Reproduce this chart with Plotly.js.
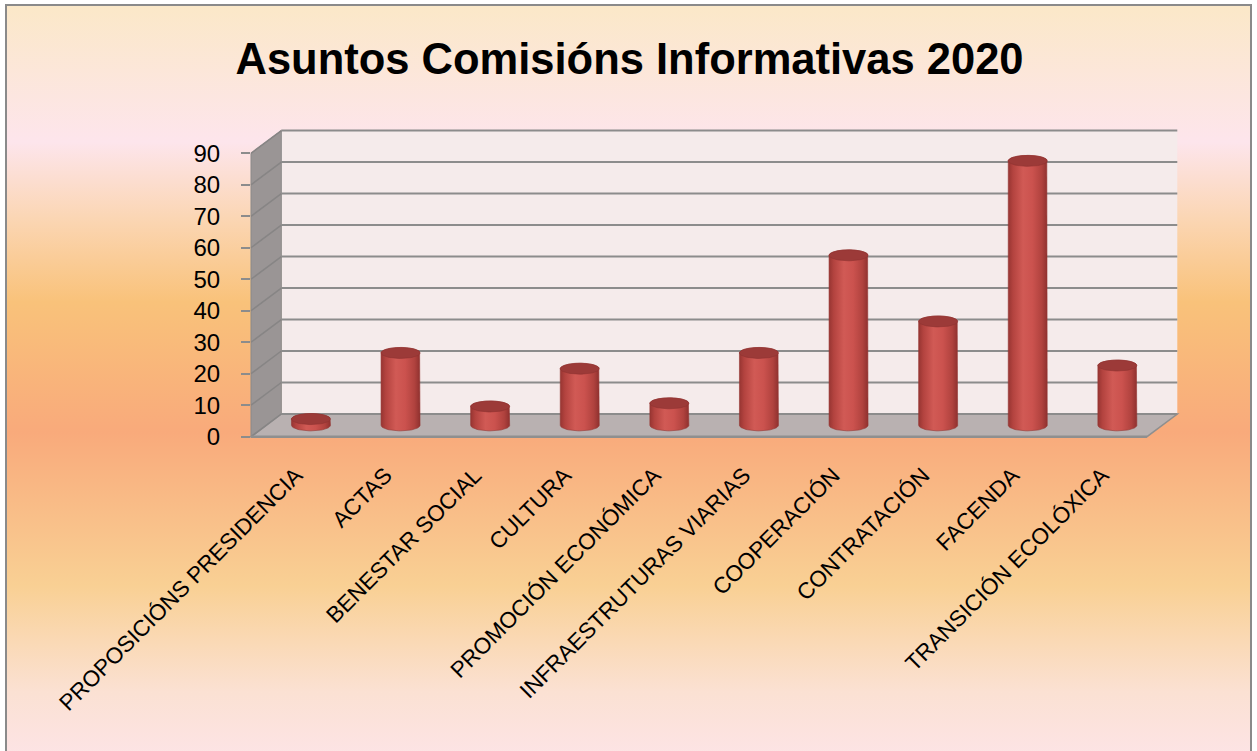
<!DOCTYPE html>
<html><head><meta charset="utf-8">
<script src="https://cdn.plot.ly/plotly-3.0.1.min.js"></script>
<style>
html,body{margin:0;padding:0;width:1257px;height:751px;overflow:hidden;background:#fff;}
#frame{position:absolute;left:5px;top:4px;width:1247px;height:800px;box-sizing:border-box;border:2px solid #8a8a8a;
background:linear-gradient(to bottom,#fbe8c8 0px,#fde5ec 136px,#fbd6b4 212px,#f9c27a 296px,#f9aa7b 426px,#f9d094 580px,#fbe1d3 686px,#fde4e8 760px);}
#chart{position:absolute;left:0;top:0;width:1257px;height:751px;}
</style></head><body>
<div id="frame"></div><div id="chart"></div>
<script>
// ---- data ----
const categories = ["PROPOSICIÓNS PRESIDENCIA","ACTAS","BENESTAR SOCIAL","CULTURA","PROMOCIÓN ECONÓMICA",
  "INFRAESTRUTURAS VIARIAS","COOPERACIÓN","CONTRATACIÓN","FACENDA","TRANSICIÓN ECOLÓXICA"];
const values = [2, 23, 6, 18, 7, 23, 54, 33, 84, 19];
const yTicks = [0, 10, 20, 30, 40, 50, 60, 70, 80, 90];
const titleText = "Asuntos Comisións Informativas 2020";

// ---- geometry (pixels) ----
const WW = 1257, HH = 751;
const FX0 = 251, FX1 = 1147, FY0 = 436.7;   // front plane
const YMAX = 90;
const K = (436.7 - 153.3) / YMAX;            // px per unit
const DX = 30.3, DY = -22.7;                 // depth offset to back wall
const px = x => x / WW, py = y => 1 - y / HH;
const P = (x, y) => px(x).toFixed(5) + ',' + py(y).toFixed(5);
const yF = v => FY0 - v * K;

// mid plane axes for cylinders
const MX0 = FX0 + DX / 2, MX1 = FX1 + DX / 2, MY0 = FY0 + DY / 2;
const YLO = -5, YHI = 95;
const n = categories.length;
const W = 19.5 / ((MX1 - MX0) / n);   // cylinder half width (category units)
const RY = 5.5 / K;                   // ellipse half height (value units)

const traces = [];
const capX = [], capY = [];
for (let i = 0; i < n; i++) {
  const v = values[i];
  const xs = [], ys = [];
  const N = 30;
  for (let k = 0; k <= N; k++) { const t = Math.PI + Math.PI * k / N; xs.push(i + W * Math.cos(t)); ys.push(RY * Math.sin(t)); }
  for (let k = 0; k <= N; k++) { const t = Math.PI * k / N; xs.push(i + W * Math.cos(t)); ys.push(v + RY * Math.sin(t)); }
  xs.push(xs[0]); ys.push(ys[0]);
  traces.push({
    type: 'scatter', x: xs, y: ys, xaxis: 'x2', yaxis: 'y2', mode: 'lines', fill: 'toself',
    line: { color: '#963533', width: 0.6 },
    fillgradient: { type: 'horizontal', colorscale: [[0, '#973532'], [0.12, '#b3433f'], [0.38, '#d15a55'], [0.62, '#cb524e'], [0.86, '#b0423e'], [1, '#8f312f']] },
    hoverinfo: 'skip', showlegend: false
  });
  for (let k = 0; k <= 2 * N; k++) { const t = 2 * Math.PI * k / (2 * N); capX.push(i + W * Math.cos(t)); capY.push(v + RY * Math.sin(t)); }
  capX.push(null); capY.push(null);
}
traces.push({
  type: 'scatter', x: capX, y: capY, xaxis: 'x2', yaxis: 'y2', mode: 'lines', fill: 'toself',
  fillcolor: '#9c3a38', line: { color: '#8e3331', width: 0.6 }, hoverinfo: 'skip', showlegend: false
});
// invisible trace for the front axes
traces.push({ type: 'scatter', x: categories.map((c, i) => i), y: values.map(() => null), xaxis: 'x', yaxis: 'y', mode: 'markers', showlegend: false, hoverinfo: 'skip' });

// ---- frame shapes ----
const shapes = [];
// back wall
shapes.push({ type: 'rect', xref: 'paper', yref: 'paper', x0: px(FX0 + DX), x1: px(FX1 + DX), y0: py(FY0 + DY), y1: py(yF(YMAX) + DY),
  fillcolor: '#f5ebeb', line: { width: 0 }, layer: 'below' });
// side wall
shapes.push({ type: 'path', xref: 'paper', yref: 'paper', layer: 'below',
  path: 'M' + P(FX0, FY0) + 'L' + P(FX0, yF(YMAX)) + 'L' + P(FX0 + DX, yF(YMAX) + DY) + 'L' + P(FX0 + DX, FY0 + DY) + 'Z',
  fillcolor: '#9a9595', line: { color: '#8a8a8a', width: 1 } });
// floor
shapes.push({ type: 'path', xref: 'paper', yref: 'paper', layer: 'below',
  path: 'M' + P(FX0, FY0) + 'L' + P(FX1, FY0) + 'L' + P(FX1 + DX, FY0 + DY) + 'L' + P(FX0 + DX, FY0 + DY) + 'Z',
  fillcolor: '#b9b1b1', line: { color: '#8f8f8f', width: 1.5 } });
// grid lines on back wall + side wall diagonals
yTicks.forEach(v => {
  const yb = yF(v) + DY;
  shapes.push({ type: 'line', xref: 'paper', yref: 'paper', layer: 'below', x0: px(FX0 + DX), x1: px(FX1 + DX), y0: py(yb), y1: py(yb),
    line: { color: '#8c8c8c', width: 2 } });
  shapes.push({ type: 'line', xref: 'paper', yref: 'paper', layer: 'below', x0: px(FX0), x1: px(FX0 + DX), y0: py(yF(v)), y1: py(yb),
    line: { color: '#878585', width: 1.5 } });
});
// front floor edge
shapes.push({ type: 'line', xref: 'paper', yref: 'paper', layer: 'below', x0: px(FX0), x1: px(FX1), y0: py(FY0), y1: py(FY0),
  line: { color: '#8f8f8f', width: 2.5 } });

const layout = {
  width: WW, height: HH,
  margin: { l: 0, r: 0, t: 0, b: 0, pad: 0 },
  paper_bgcolor: 'rgba(0,0,0,0)', plot_bgcolor: 'rgba(0,0,0,0)',
  showlegend: false,
  title: { text: titleText, x: 629.5 / WW, xanchor: 'center', y: 1 - 58.5 / HH, yanchor: 'middle',
    font: { family: 'Liberation Sans, Arial, sans-serif', size: 43.5, color: '#000', weight: 'bold' } },
  font: { family: 'Liberation Sans, Arial, sans-serif', color: '#000' },
  xaxis: { domain: [px(FX0), px(FX1)], range: [-0.5, n - 0.5], anchor: 'y',
    tickmode: 'array', tickvals: categories.map((c, i) => i), ticktext: categories, tickangle: -45,
    showgrid: false, zeroline: false, showline: false, ticks: '', ticklabelstandoff: 20,
    tickfont: { size: 22.5, color: '#000' }, fixedrange: true },
  yaxis: { domain: [py(FY0), py(yF(YMAX))], range: [0, YMAX], anchor: 'x',
    tickmode: 'array', tickvals: yTicks, showgrid: false, zeroline: false, showline: false,
    ticks: 'outside', ticklen: 9, tickwidth: 2, tickcolor: '#8c8c8c', ticklabelstandoff: 16,
    tickfont: { size: 24, color: '#000' }, fixedrange: true },
  xaxis2: { domain: [px(MX0), px(MX1)], range: [-0.5, n - 0.5], anchor: 'y2', visible: false, fixedrange: true },
  yaxis2: { domain: [py(MY0 - YLO * K), py(MY0 - YHI * K)], range: [YLO, YHI], anchor: 'x2', visible: false, fixedrange: true },
  shapes: shapes
};
Plotly.newPlot('chart', traces, layout, { staticPlot: true, displayModeBar: false });
</script>
</body></html>
